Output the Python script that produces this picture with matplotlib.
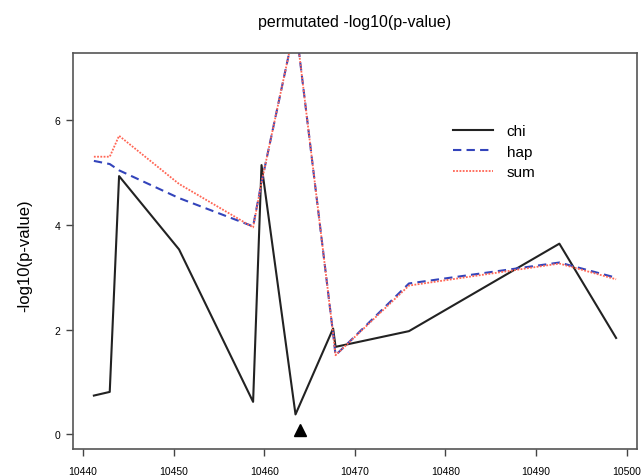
import numpy as np
import matplotlib.pyplot as plt

plt.rcParams['font.family'] = ['Liberation Sans', 'DejaVu Sans']

# positions (same for all three series)
pos = [10441.2, 10442.95, 10443.98, 10450.6, 10458.77, 10459.7,
       10463.45, 10467.6, 10467.87, 10475.97, 10492.57, 10498.83]

chi = [0.74, 0.81, 4.93, 3.53, 0.62, 5.14, 0.38, 2.02, 1.67, 1.97, 3.64, 1.84]
hap = [5.22, 5.16, 5.04, 4.51, 3.97, 4.81, 7.85, 1.92, 1.51, 2.88, 3.28, 2.99]
sum_ = [5.30, 5.30, 5.70, 4.78, 3.95, 4.81, 7.85, 1.92, 1.51, 2.84, 3.26, 2.96]

marker_pos = 10463.9
marker_y = 0.09

fig = plt.figure(figsize=(6.42, 4.77), dpi=100)
ax = fig.add_axes([0.1137, 0.0566, 0.8785, 0.8302])

ax.plot(pos, chi, color='#222222', lw=1.5, label='chi')
ax.plot(pos, hap, color='#3344bb', lw=1.5, ls=(0, (4, 2.5)), label='hap')
ax.plot(pos, sum_, color='#ff6655', lw=1.3, ls=(0, (1, 0.8)), label='sum')
ax.plot([marker_pos], [marker_y], marker='^', color='black', ms=8, ls='none')

# R style axis limits: 4% extension
xr = max(pos) - min(pos)
ax.set_xlim(min(pos) - 0.04 * xr, max(pos) + 0.04 * xr)
ax.set_ylim(-0.28, 7.28)

ax.set_xticks(range(10440, 10501, 10))
ax.set_yticks([0, 2, 4, 6])
ax.tick_params(labelsize=7.5, length=5, color='#444444', width=1)
ax.tick_params(axis='x', pad=7)
ax.tick_params(axis='y', pad=4.3)
for s in ax.spines.values():
    s.set_color('#555555')
    s.set_linewidth(1.2)

ax.set_ylabel('-log10(p-value)', fontsize=12, va='center')
ax.yaxis.set_label_coords(-0.085, 0.49)
fig.text(0.552, 0.952, 'permutated -log10(p-value)', fontsize=11.5,
         ha='center', va='center')

ax.legend(loc='upper left', bbox_to_anchor=(0.674, 0.82), frameon=False,
          fontsize=11, handlelength=2.6, handletextpad=0.9, labelspacing=0.42,
          borderpad=0, borderaxespad=0)

fig.savefig('out.png', dpi=100)
